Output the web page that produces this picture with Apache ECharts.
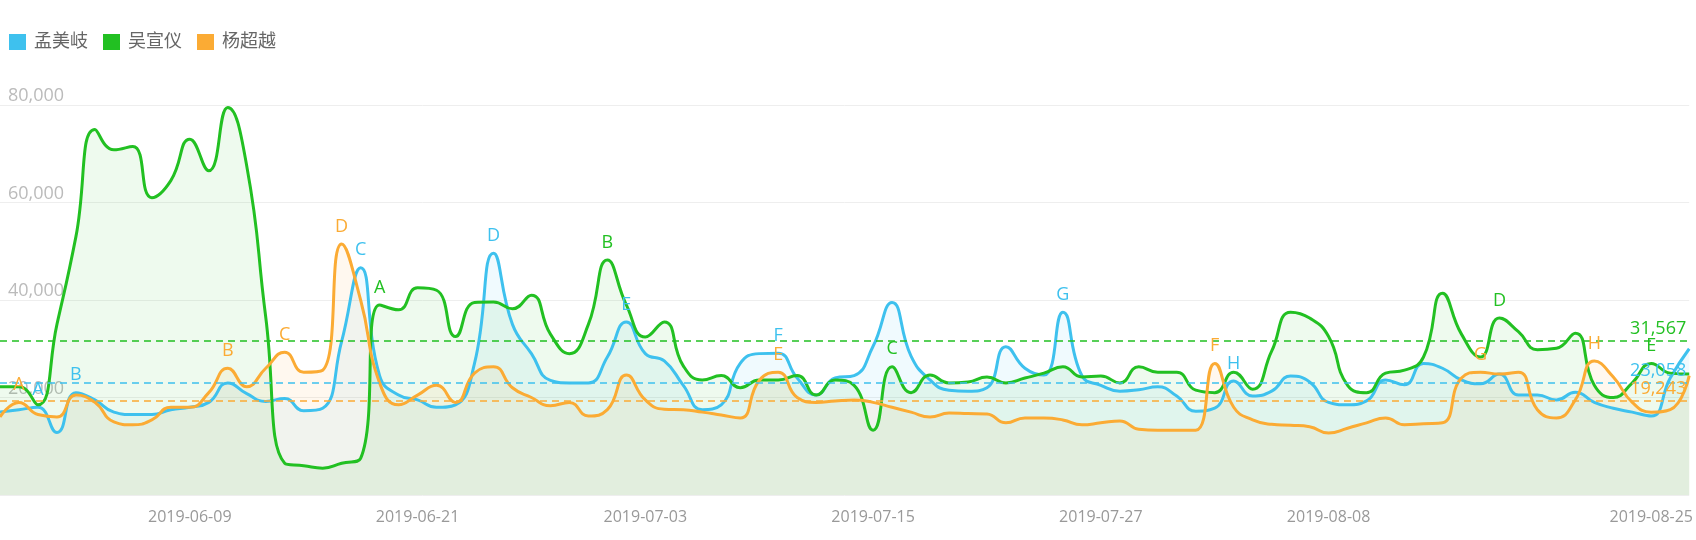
<!DOCTYPE html>
<html>
<head>
<meta charset="utf-8">
<script src="https://cdn.jsdelivr.net/npm/echarts@6/dist/echarts.min.js"></script>
<style>
  html, body { margin: 0; padding: 0; background: #fff; }
  #main { width: 1696px; height: 540px; }
</style>
</head>
<body>
<div id="main"></div>
<script>
var dates = [
  '2019-05-30', '2019-05-31',
  '2019-06-01', '2019-06-02', '2019-06-03', '2019-06-04', '2019-06-05', '2019-06-06', '2019-06-07', '2019-06-08', '2019-06-09', '2019-06-10',
  '2019-06-11', '2019-06-12', '2019-06-13', '2019-06-14', '2019-06-15', '2019-06-16', '2019-06-17', '2019-06-18', '2019-06-19', '2019-06-20',
  '2019-06-21', '2019-06-22', '2019-06-23', '2019-06-24', '2019-06-25', '2019-06-26', '2019-06-27', '2019-06-28', '2019-06-29', '2019-06-30',
  '2019-07-01', '2019-07-02', '2019-07-03', '2019-07-04', '2019-07-05', '2019-07-06', '2019-07-07', '2019-07-08', '2019-07-09', '2019-07-10',
  '2019-07-11', '2019-07-12', '2019-07-13', '2019-07-14', '2019-07-15', '2019-07-16', '2019-07-17', '2019-07-18', '2019-07-19', '2019-07-20',
  '2019-07-21', '2019-07-22', '2019-07-23', '2019-07-24', '2019-07-25', '2019-07-26', '2019-07-27', '2019-07-28', '2019-07-29', '2019-07-30',
  '2019-07-31',
  '2019-08-01', '2019-08-02', '2019-08-03', '2019-08-04', '2019-08-05', '2019-08-06', '2019-08-07', '2019-08-08', '2019-08-09', '2019-08-10',
  '2019-08-11', '2019-08-12', '2019-08-13', '2019-08-14', '2019-08-15', '2019-08-16', '2019-08-17', '2019-08-18', '2019-08-19', '2019-08-20',
  '2019-08-21', '2019-08-22', '2019-08-23', '2019-08-24', '2019-08-25', '2019-08-26', '2019-08-27'
];
// x labels visible in the picture
var labelDates = ['2019-06-09', '2019-06-21', '2019-07-03', '2019-07-15', '2019-07-27', '2019-08-08', '2019-08-25'];
var yTicks = [0, 20000, 40000, 60000, 80000];

var names = ['孟美岐', '吴宣仪', '杨超越'];
var colors = ['#3ec1ee', '#22c022', '#fbab34'];

var meng = [
  17000, 17500, 18000, 12800, 21000, 19500, 17000, 16500, 16500, 17500,
  18000, 19000, 23000, 20800, 19200, 19800, 17300, 17800, 31500, 46600,
  24500, 20500, 19500, 18000, 18500, 27000, 49600, 35000, 29000, 23500,
  23000, 23000, 28300, 35500, 29000, 27500, 22500, 17500, 18500, 27000,
  29000, 29100, 24000, 20500, 24000, 24500, 30500, 39500, 28500, 23600,
  21500, 21300, 22000, 30400, 26000, 24600, 37500, 24500, 22500, 21300,
  21600, 22200, 20300, 17200, 17800, 23400, 20300, 21300, 24400, 23200,
  19000, 18500, 19300, 23600, 22600, 27000, 26000, 23600, 22800, 24800,
  20500, 20500, 19500, 21100, 19000, 17800, 17000, 16200, 24000, 30000
];
var wu = [
  22200, 22200, 18500, 35000, 53000, 75000, 70800, 71500, 61000, 64500,
  73000, 66500, 79500, 67500, 36500, 6500, 6000, 5500, 6500, 7500,
  39000, 38000, 42500, 42000, 32500, 39500, 39600, 38200, 41000, 33000,
  29000, 35000, 48200, 39000, 32400, 35500, 26500, 23600, 24500, 22000,
  23600, 23600, 24500, 20500, 23600, 22500, 13300, 26300, 21000, 24600,
  23000, 23200, 24200, 23000, 24000, 25000, 26300, 24200, 24400, 23000,
  26300, 25200, 25200, 21500, 21000, 25200, 21700, 29500, 37500, 36300,
  32500, 22500, 21000, 25000, 25600, 28300, 41400, 33000, 28300, 36300,
  33500, 29800, 30100, 33200, 22500, 20000, 23000, 27000, 25000, 24800
];
var yang = [
  16000, 19000, 16500, 16000, 20500, 19000, 15000, 14400, 15400, 18000,
  18000, 21000, 26000, 22200, 26000, 29300, 25200, 25600, 51500, 40000,
  23000, 18500, 20500, 22500, 19000, 25000, 26300, 22000, 20000, 18300,
  19000, 16200, 17500, 24600, 19500, 17600, 17500, 17000, 16400, 15800,
  23500, 25200, 20000, 19000, 19300, 19500, 19000, 18000, 17000, 16000,
  16800, 16700, 16600, 14800, 15800, 15800, 15400, 14400, 14800, 15200,
  13500, 13300, 13300, 13300, 27000, 18000, 15400, 14500, 14300, 14000,
  12700, 13700, 14800, 15800, 14400, 14600, 14800, 24000, 25200, 24800,
  25200, 17500, 15800, 19500, 27500, 24200, 19000, 17000, 17500, 24500
];
var averages = [23058, 31567, 19243];

var mengMarks = [['2019-06-01', 'A'], ['2019-06-03', 'B'], ['2019-06-18', 'C'], ['2019-06-25', 'D'],
  ['2019-07-02', 'E'], ['2019-07-10', 'F'], ['2019-07-25', 'G'], ['2019-08-03', 'H']];
var wuMarks = [['2019-06-19', 'A'], ['2019-07-01', 'B'], ['2019-07-16', 'C'], ['2019-08-17', 'D'], ['2019-08-25', 'E']];
var yangMarks = [['2019-05-31', 'A'], ['2019-06-11', 'B'], ['2019-06-14', 'C'], ['2019-06-17', 'D'],
  ['2019-07-10', 'E'], ['2019-08-02', 'F'], ['2019-08-16', 'G'], ['2019-08-22', 'H']];

var font = "'Open Sans', 'Noto Sans CJK SC', sans-serif";

function fmt(v) {
  return Number(v).toLocaleString('en-US');
}

function makeSeries(i, data, marks) {
  var c = colors[i];
  return {
    name: names[i],
    type: 'line',
    smooth: true,
    showSymbol: false,
    data: data,
    lineStyle: { width: 3, color: c },
    itemStyle: { color: c },
    areaStyle: { opacity: 0.08 },
    markLine: {
      silent: true,
      symbol: 'none',
      data: [{ yAxis: averages[i] }],
      lineStyle: { type: [7, 5], width: 1.5, color: c },
      label: {
        position: 'insideEndTop',
        distance: 3,
        color: c,
        fontSize: 18,
        fontFamily: font,
        formatter: function (p) { return fmt(p.value); }
      }
    },
    markPoint: {
      silent: true,
      symbol: 'circle',
      symbolSize: 1,
      itemStyle: { color: 'rgba(0,0,0,0)' },
      label: {
        show: true,
        position: 'top',
        distance: 8,
        color: c,
        fontSize: 18,
        fontFamily: font,
        formatter: '{b}'
      },
      data: marks.map(function (m) {
        return { name: m[1], coord: [m[0], data[dates.indexOf(m[0])]] };
      })
    }
  };
}

var chart = echarts.init(document.getElementById('main'));
var option = {
  animation: false,
  color: colors,
  textStyle: { fontFamily: font },
  legend: {
    data: names,
    left: 4,
    top: 28,
    icon: 'rect',
    itemWidth: 17,
    itemHeight: 16,
    itemGap: 15,
    textStyle: { fontSize: 18, color: '#666', fontFamily: font, padding: [0, 0, 0, 3] }
  },
  grid: { left: 0, right: 0, top: 105, bottom: 45 },
  xAxis: {
    type: 'category',
    boundaryGap: false,
    data: dates,
    axisLine: { show: false },
    axisTick: { show: false },
    axisLabel: {
      color: '#999',
      fontSize: 16,
      fontFamily: font,
      margin: 14,
      interval: function (idx, val) { return labelDates.indexOf(val) >= 0; }
    }
  },
  yAxis: {
    type: 'value',
    min: yTicks[0],
    max: yTicks[yTicks.length - 1],
    interval: yTicks[1] - yTicks[0],
    axisLine: { show: false },
    axisTick: { show: false },
    splitLine: { lineStyle: { color: '#eeeeee' } },
    axisLabel: {
      inside: true,
      showMinLabel: false,
      margin: 8,
      verticalAlign: 'bottom',
      color: '#bbbbbb',
      fontSize: 18,
      fontFamily: font,
      formatter: fmt
    }
  },
  series: [
    makeSeries(0, meng, mengMarks),
    makeSeries(1, wu, wuMarks),
    makeSeries(2, yang, yangMarks)
  ]
};
chart.setOption(option);
</script>
</body>
</html>
